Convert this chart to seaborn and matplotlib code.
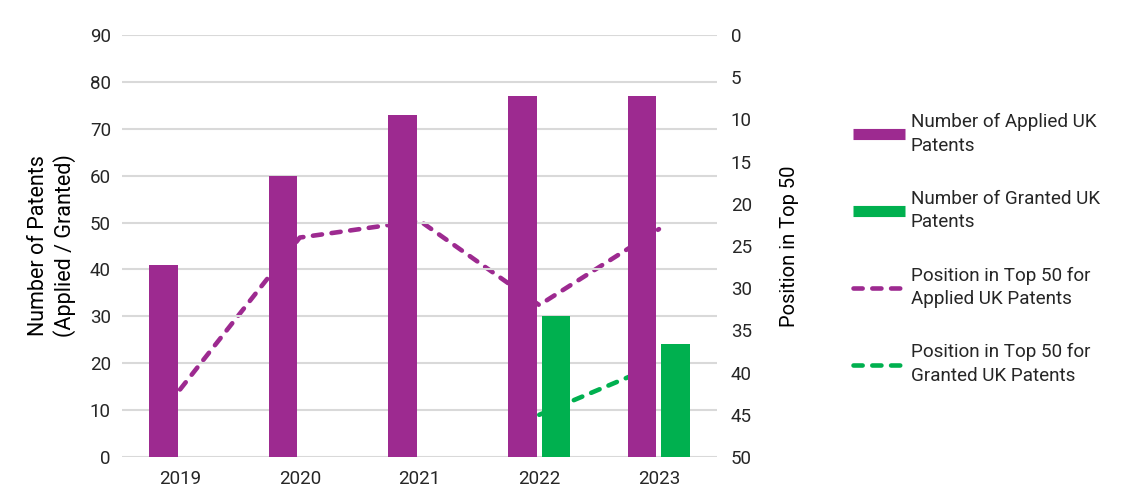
import pandas as pd
import numpy as np
import seaborn as sns
import matplotlib.pyplot as plt
from matplotlib.lines import Line2D

years = ['2019', '2020', '2021', '2022', '2023']
applied = [41, 60, 73, 77, 77]
granted = [np.nan, np.nan, np.nan, 30, 24]
pos_applied = [42, 24, 22, 32, 23]
pos_granted = [np.nan, np.nan, np.nan, 45, 39]

purple = '#9D2A90'
green = '#00B04F'
grid_c = '#D9D9D9'
txt_c = '#262626'

sns.set_theme(style='white')
plt.rcParams['font.family'] = ['Roboto', 'DejaVu Sans']

bars = pd.DataFrame({
    'year': years * 2,
    'series': ['Applied'] * len(years) + ['Granted'] * len(years),
    'value': applied + granted,
})

fig = plt.figure(figsize=(11.25, 5.01), dpi=100)
ax = fig.add_axes([122 / 1125, 44 / 501, 595 / 1125, 422 / 501])

sns.barplot(data=bars, x='year', y='value', hue='series', order=years,
            palette={'Applied': purple, 'Granted': green}, width=0.56, gap=0.15,
            errorbar=None, legend=False, saturation=1, linewidth=0, ax=ax, zorder=3)

ax.set_ylim(0, 90)
ax.set_yticks(range(0, 91, 10))
ax.yaxis.grid(True, color=grid_c, lw=1.5, zorder=0)
ax.set_axisbelow(True)
for s in ax.spines.values():
    s.set_visible(False)
ax.tick_params(axis='both', length=0, labelsize=13.5, colors=txt_c)
ax.tick_params(axis='y', pad=8)
ax.tick_params(axis='x', pad=9)
ax.set_xlabel('')
ax.set_ylabel('Number of Patents\n(Applied / Granted)', fontsize=15.5, color='black', labelpad=10)

# position lines on the reversed right axis
lw = 3.3
dash = (2.0, 2.1)
ax2 = ax.twinx()
lines = pd.DataFrame({'year': years, 'applied': pos_applied, 'granted': pos_granted})
sns.lineplot(data=lines, x='year', y='applied', color=purple, lw=lw, ax=ax2)
gl = lines.dropna()
sns.lineplot(data=gl, x='year', y='granted', color=green, lw=lw, ax=ax2)
for ln in ax2.lines:
    ln.set_dashes(dash)
    ln.set_dash_capstyle('round')

ax2.set_ylim(50, 0)
ax2.set_yticks(range(0, 51, 5))
for s in ax2.spines.values():
    s.set_visible(False)
ax2.tick_params(axis='y', length=0, labelsize=13.5, colors=txt_c, pad=10)
ax2.set_ylabel('Position in Top 50', fontsize=14.5, color='black', labelpad=20)
ax2.grid(False)

# bars on top of the lines
ax.set_zorder(ax2.get_zorder() + 1)
ax.patch.set_visible(False)

handles = [
    Line2D([0], [0], color=purple, lw=8, solid_capstyle='butt'),
    Line2D([0], [0], color=green, lw=8, solid_capstyle='butt'),
    Line2D([0], [0], color=purple, lw=lw, dashes=dash, dash_capstyle='round'),
    Line2D([0], [0], color=green, lw=lw, dashes=dash, dash_capstyle='round'),
]
labels = ['Number of Applied UK\nPatents', 'Number of Granted UK\nPatents',
          'Position in Top 50 for\nApplied UK Patents', 'Position in Top 50 for\nGranted UK Patents']
leg = fig.legend(handles, labels, loc='upper left', bbox_to_anchor=(853 / 1125, 1 - 113 / 501),
                 bbox_transform=fig.transFigure, frameon=False, fontsize=13.6,
                 handlelength=2.75, handletextpad=0.32, labelspacing=1.86,
                 borderaxespad=0, borderpad=0, labelcolor=txt_c)
for t in leg.get_texts():
    t.set_linespacing(1.4)

fig.savefig('out.png', dpi=100)
